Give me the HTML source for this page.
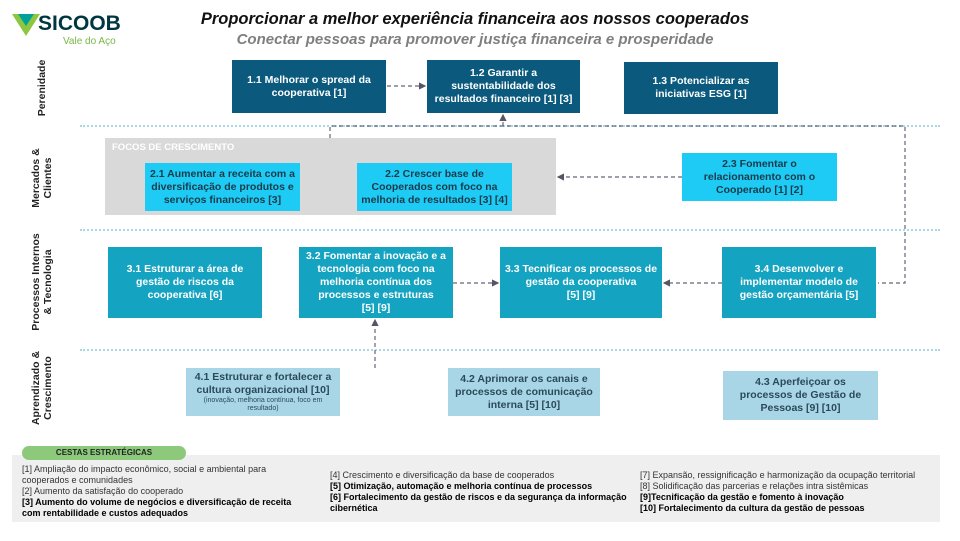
<!DOCTYPE html><html><head><meta charset="utf-8"><style>
body{margin:0;width:960px;height:541px;background:#fff;position:relative;overflow:hidden;font-family:"Liberation Sans",Arial,sans-serif}
.a{position:absolute}
.b{position:absolute;display:flex;align-items:center;justify-content:center;text-align:center;font-weight:bold;font-size:10.5px;line-height:13px;box-sizing:border-box;padding:0 3px}
.d{background:#0b5a7e;color:#fff}.c{background:#1ecbf4;color:#1a3a4a}.t{background:#14a3c0;color:#fff}.l{background:#a9d6e6;color:#2a4a5a}
.r{position:absolute;transform:translate(-50%,-50%) rotate(-90deg);font-size:10.5px;font-weight:bold;text-align:center;line-height:12px;white-space:nowrap;color:#222}
.sep{position:absolute;left:80px;width:860px;border-top:2px dotted #a8d8ea;height:0}
.ft{font-size:9px;line-height:11px;color:#333}
.ft b{color:#000}
</style></head><body>
<div class="a" style="left:8px;top:8px;width:104px;height:38px">
<svg width="30" height="24" style="position:absolute;left:4px;top:6px"><polygon points="0,0 28,0 14,22" fill="#8dc63f"/><polygon points="6,0 22,0 14,12" fill="#00a19a"/></svg>
<div class="a" style="left:30px;top:4px;font-size:21px;font-weight:bold;color:#003641">SICOOB</div>
<div class="a" style="left:55px;top:28px;font-size:10px;color:#7ab648;white-space:nowrap">Vale do Aço</div></div>
<div class="a" style="left:120px;width:710px;top:10px;text-align:center;font-size:16.5px;font-weight:bold;font-style:italic;color:#111">Proporcionar a melhor experiência financeira aos nossos cooperados</div>
<div class="a" style="left:120px;width:710px;top:31px;text-align:center;font-size:15px;font-weight:bold;font-style:italic;color:#7f7f7f">Conectar pessoas para promover justiça financeira e prosperidade</div>
<div class="r" style="left:42px;top:88px">Perenidade</div>
<div class="r" style="left:42px;top:178px">Mercados &amp;<br>Clientes</div>
<div class="r" style="left:42px;top:282px">Processos Internos<br>&amp; Tecnologia</div>
<div class="r" style="left:42px;top:388px">Aprendizado &amp;<br>Crescimento</div>
<div class="sep" style="top:125px"></div><div class="sep" style="top:229px"></div><div class="sep" style="top:349px"></div>
<div class="b d" style="left:232px;top:60px;width:154px;height:53px">1.1 Melhorar o spread da cooperativa [1]</div>
<div class="b d" style="left:427px;top:60px;width:153px;height:53px">1.2 Garantir a sustentabilidade dos resultados financeiro [1] [3]</div>
<div class="b d" style="left:624px;top:62px;width:154px;height:52px">1.3 Potencializar as iniciativas ESG [1]</div>
<div class="a" style="left:105px;top:138px;width:451px;height:77px;background:#d9d9d9"></div>
<div class="a" style="left:112px;top:142px;font-size:9.5px;font-weight:bold;color:#fff">FOCOS DE CRESCIMENTO</div>
<div class="b c" style="left:145px;top:163px;width:155px;height:48px">2.1 Aumentar a receita com a diversificação de produtos e serviços financeiros [3]</div>
<div class="b c" style="left:357px;top:163px;width:155px;height:48px">2.2 Crescer base de Cooperados com foco na melhoria de resultados [3] [4]</div>
<div class="b c" style="left:682px;top:153px;width:155px;height:48px">2.3 Fomentar o relacionamento com o Cooperado [1] [2]</div>
<div class="b t" style="left:108px;top:247px;width:154px;height:71px">3.1 Estruturar a área de gestão de riscos da cooperativa [6]</div>
<div class="b t" style="left:299px;top:247px;width:154px;height:71px">3.2 Fomentar a inovação e a tecnologia com foco na melhoria contínua dos processos e estruturas<br>[5] [9]</div>
<div class="b t" style="left:500px;top:247px;width:162px;height:71px">3.3 Tecnificar os processos de gestão da cooperativa<br>[5] [9]</div>
<div class="b t" style="left:722px;top:247px;width:154px;height:71px">3.4 Desenvolver e implementar modelo de gestão orçamentária [5]</div>
<div class="b l" style="left:186px;top:368px;width:154px;height:48px;flex-direction:column">4.1 Estruturar e fortalecer a cultura organizacional [10]<span style="font-size:7px;font-weight:normal;line-height:8px">(inovação, melhoria contínua, foco em resultado)</span></div>
<div class="b l" style="left:448px;top:368px;width:152px;height:48px">4.2 Aprimorar os canais e processos de comunicação interna [5] [10]</div>
<div class="b l" style="left:723px;top:371px;width:155px;height:49px;padding:0 12px">4.3 Aperfeiçoar os processos de Gestão de Pessoas [9] [10]</div>
<svg class="a" style="left:0;top:0" width="960" height="541">
<defs><marker id="m" markerWidth="6" markerHeight="6" refX="5" refY="3" orient="auto"><path d="M0,0L6,3L0,6z" fill="#556"/></marker></defs>
<g stroke="#667" stroke-width="1.2" stroke-dasharray="4,3" fill="none">
<line x1="387" y1="86" x2="425" y2="86" marker-end="url(#m)"/>
<polyline points="330,138 330,126 905,126 905,283 878,283"/>
<line x1="503" y1="126" x2="503" y2="115" marker-end="url(#m)"/>
<line x1="682" y1="177" x2="558" y2="177" marker-end="url(#m)"/>
<line x1="722" y1="283" x2="664" y2="283" marker-end="url(#m)"/>
<line x1="453" y1="283" x2="498" y2="283" marker-end="url(#m)"/>
<line x1="375" y1="368" x2="375" y2="320" marker-end="url(#m)"/>
</g></svg>
<div class="a" style="left:12px;top:455px;width:928px;height:67px;background:#efefef"></div>
<div class="a" style="left:22px;top:446px;width:164px;height:14px;background:#8cc97a;border-radius:7px;font-size:8px;font-weight:bold;color:#222;text-align:center;line-height:14px">CESTAS ESTRATÉGICAS</div>
<div class="a ft" style="left:22px;top:464px;width:290px">[1] Ampliação do impacto econômico, social e ambiental para cooperados e comunidades<br>[2] Aumento da satisfação do cooperado<br><b>[3] Aumento do volume de negócios e diversificação de receita com rentabilidade e custos adequados</b></div>
<div class="a ft" style="left:330px;top:470px;width:300px">[4] Crescimento e diversificação da base de cooperados<br><b>[5] Otimização, automação e melhoria contínua de processos<br>[6] Fortalecimento da gestão de riscos e da segurança da informação cibernética</b></div>
<div class="a ft" style="left:640px;top:470px;width:300px">[7] Expansão, ressignificação e harmonização da ocupação territorial<br>[8] Solidificação das parcerias e relações intra sistêmicas<br><b>[9]Tecnificação da gestão e fomento à inovação<br>[10] Fortalecimento da cultura da gestão de pessoas</b></div>
</body></html>
